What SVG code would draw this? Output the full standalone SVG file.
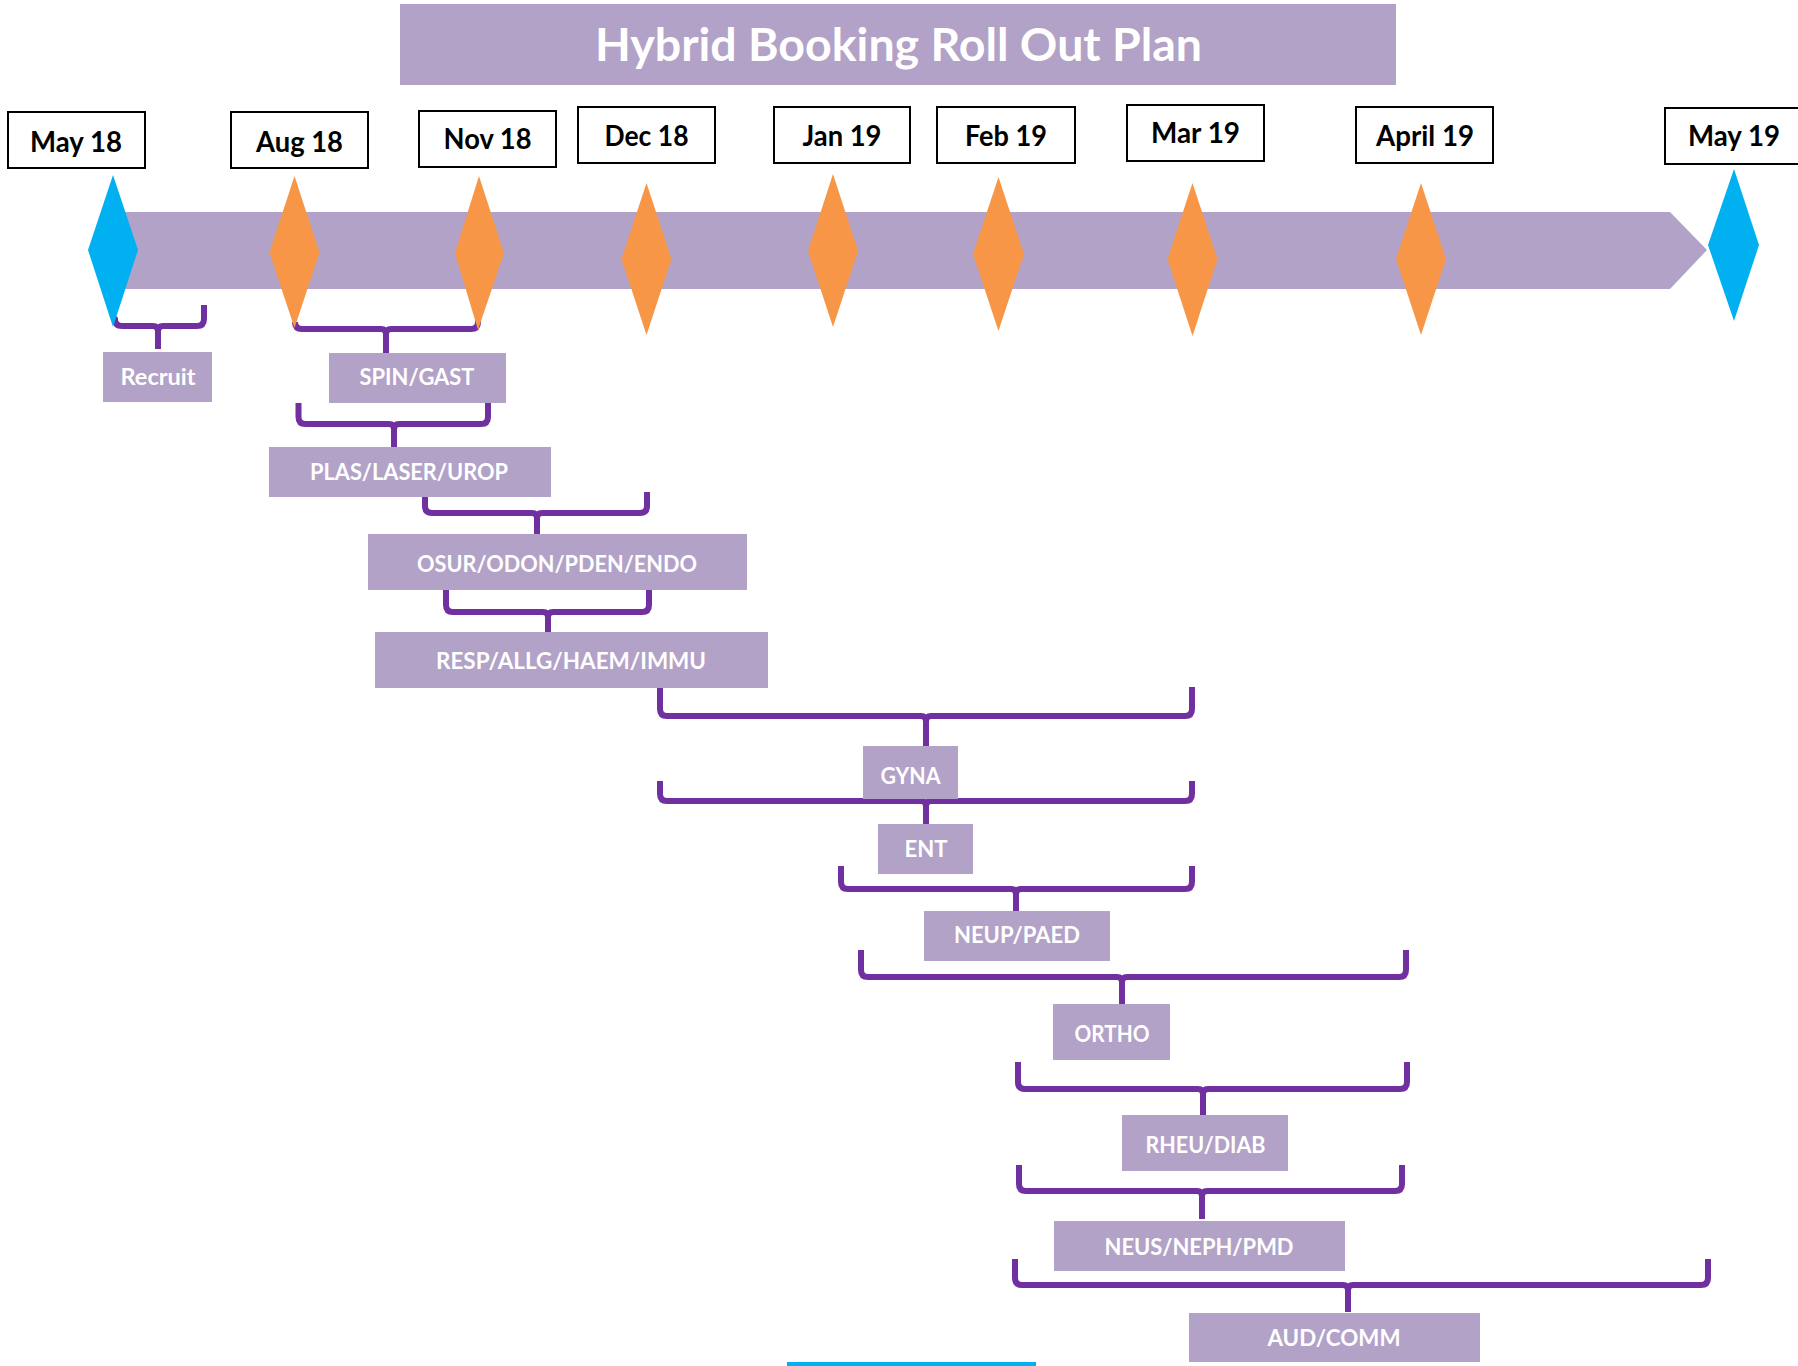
<svg xmlns="http://www.w3.org/2000/svg" width="1798" height="1366" viewBox="0 0 1798 1366">
  <style>
    .title { font-family: Lato, "Liberation Sans", sans-serif; font-weight: 700; font-size: 45px; fill: #FFFFFF; }
    .date-box { fill: #FFFFFF; stroke: #000000; stroke-width: 2; }
    .date { font-family: Lato, "Liberation Sans", sans-serif; font-weight: 700; font-size: 28px; fill: #000000; text-anchor: middle; }
    .box { fill: #B3A2C7; }
    .label { font-family: Lato, "Liberation Sans", sans-serif; font-weight: 700; font-size: 22px; fill: #FFFFFF; text-anchor: middle; }
    .ms-blue { fill: #00B0F0; }
    .ms-orange { fill: #F79646; }
    .brace { fill: none; stroke: #7030A0; stroke-width: 6; stroke-linecap: butt; stroke-linejoin: round; }
  </style>

  <rect width="1798" height="1366" fill="#FFFFFF"/>

  <!-- Title banner -->
  <g id="title">
    <rect class="box" x="400" y="4" width="996" height="81"/>
    <text class="title" x="595" y="61" textLength="607" lengthAdjust="spacingAndGlyphs">Hybrid Booking Roll Out Plan</text>
  </g>

  <!-- Timeline arrow -->
  <g id="timeline">
    <path class="box" d="M120,212 H1670 L1707,250 L1670,289 H120 Z"/>
  </g>

  <!-- Month labels -->
  <g id="date-may18"><rect class="date-box" x="8" y="112" width="137" height="56"/><text class="date" x="76" y="152" textLength="92" lengthAdjust="spacingAndGlyphs">May 18</text></g>
  <g id="date-aug18"><rect class="date-box" x="231" y="112" width="137" height="56"/><text class="date" x="299.5" y="152" textLength="87" lengthAdjust="spacingAndGlyphs">Aug 18</text></g>
  <g id="date-nov18"><rect class="date-box" x="419" y="111" width="137" height="56"/><text class="date" x="487.5" y="149" textLength="88" lengthAdjust="spacingAndGlyphs">Nov 18</text></g>
  <g id="date-dec18"><rect class="date-box" x="578" y="107" width="137" height="56"/><text class="date" x="646.5" y="146" textLength="84" lengthAdjust="spacingAndGlyphs">Dec 18</text></g>
  <g id="date-jan19"><rect class="date-box" x="774" y="107" width="136" height="56"/><text class="date" x="842" y="146" textLength="79" lengthAdjust="spacingAndGlyphs">Jan 19</text></g>
  <g id="date-feb19"><rect class="date-box" x="937" y="107" width="138" height="56"/><text class="date" x="1006" y="146" textLength="82" lengthAdjust="spacingAndGlyphs">Feb 19</text></g>
  <g id="date-mar19"><rect class="date-box" x="1127" y="105" width="137" height="56"/><text class="date" x="1195.5" y="143" textLength="89" lengthAdjust="spacingAndGlyphs">Mar 19</text></g>
  <g id="date-apr19"><rect class="date-box" x="1356" y="107" width="137" height="56"/><text class="date" x="1425" y="146" textLength="98" lengthAdjust="spacingAndGlyphs">April 19</text></g>
  <g id="date-may19"><rect class="date-box" x="1665" y="108" width="138" height="56"/><text class="date" x="1734" y="146" textLength="92" lengthAdjust="spacingAndGlyphs">May 19</text></g>

  <!-- Phase connectors (curly braces) -->
  <g id="connectors">
    <path class="brace" d="M115,320 V319 Q115,326 122,326 H153 Q158,326 158,331 V349 M158,331 Q158,326 163,326 H197 Q204,326 204,319 V305"/>
    <path class="brace" d="M295,322 Q295,329 302,329 H381 Q386,329 386,334 V353 M386,334 Q386,329 391,329 H471 Q478,329 478,322 V318"/>
    <path class="brace" d="M298.5,403 V417 Q298.5,424 305.5,424 H389 Q394,424 394,429 V447 M394,429 Q394,424 399,424 H481 Q488,424 488,417 V403"/>
    <path class="brace" d="M425,492 V506 Q425,513 432,513 H532 Q537,513 537,518 V535 M537,518 Q537,513 542,513 H640 Q647,513 647,506 V492"/>
    <path class="brace" d="M446,590 V605 Q446,612 453,612 H543 Q548,612 548,617 V633 M548,617 Q548,612 553,612 H642 Q649,612 649,605 V590"/>
    <path class="brace" d="M660,687 V709 Q660,716 667,716 H921 Q926,716 926,721 V746 M926,721 Q926,716 931,716 H1185 Q1192,716 1192,709 V687"/>
    <path class="brace" d="M660,781 V794 Q660,801 667,801 H921 Q926,801 926,806 V824 M926,806 Q926,801 931,801 H1185 Q1192,801 1192,794 V781"/>
    <path class="brace" d="M841,866 V882 Q841,889 848,889 H1011 Q1016,889 1016,894 V912 M1016,894 Q1016,889 1021,889 H1185 Q1192,889 1192,882 V866"/>
    <path class="brace" d="M861,950 V970 Q861,977 868,977 H1117 Q1122,977 1122,982 V1004 M1122,982 Q1122,977 1127,977 H1399 Q1406,977 1406,970 V950"/>
    <path class="brace" d="M1018,1062 V1082 Q1018,1089 1025,1089 H1198 Q1203,1089 1203,1094 V1116 M1203,1094 Q1203,1089 1208,1089 H1400 Q1407,1089 1407,1082 V1062"/>
    <path class="brace" d="M1019,1165 V1184 Q1019,1191 1026,1191 H1197 Q1202,1191 1202,1196 V1219 M1202,1196 Q1202,1191 1207,1191 H1395 Q1402,1191 1402,1184 V1165"/>
    <path class="brace" d="M1015,1259 V1278 Q1015,1285 1022,1285 H1343 Q1348,1285 1348,1290 V1312 M1348,1290 Q1348,1285 1353,1285 H1701 Q1708,1285 1708,1278 V1259"/>
  </g>

  <!-- Milestones -->
  <g id="milestone-may18"><polygon class="ms-blue" points="113,175 138,250 113,327 88,250"/></g>
  <g id="milestone-aug18"><polygon class="ms-orange" points="294.5,176 319.5,252.5 294.5,328 269.5,252.5"/></g>
  <g id="milestone-nov18"><polygon class="ms-orange" points="479,176 504,253 478,330 455,253"/></g>
  <g id="milestone-dec18"><polygon class="ms-orange" points="646.5,183 671.5,259 646.5,335 621.5,259"/></g>
  <g id="milestone-jan19"><polygon class="ms-orange" points="833,174 858,251 833,327 808,251"/></g>
  <g id="milestone-feb19"><polygon class="ms-orange" points="998.5,177 1024,254 998.5,331 973,254"/></g>
  <g id="milestone-mar19"><polygon class="ms-orange" points="1192.5,183 1217.5,259 1192.5,336 1167.5,259"/></g>
  <g id="milestone-apr19"><polygon class="ms-orange" points="1421,183 1446,259 1421,335 1396,259"/></g>
  <g id="milestone-may19"><polygon class="ms-blue" points="1734,169 1759,245 1734,321 1708,245"/></g>

  <!-- Phase nodes -->
  <g id="node-recruit"><rect class="box" x="103" y="352" width="109" height="50"/><text class="label" x="158" y="385" textLength="75" lengthAdjust="spacingAndGlyphs">Recruit</text></g>
  <g id="node-spin"><rect class="box" x="329" y="353" width="177" height="50"/><text class="label" x="417" y="385" textLength="115" lengthAdjust="spacingAndGlyphs">SPIN/GAST</text></g>
  <g id="node-plas"><rect class="box" x="269" y="447" width="282" height="50"/><text class="label" x="409" y="480" textLength="198" lengthAdjust="spacingAndGlyphs">PLAS/LASER/UROP</text></g>
  <g id="node-osur"><rect class="box" x="368" y="534" width="379" height="56"/><text class="label" x="557" y="572" textLength="280" lengthAdjust="spacingAndGlyphs">OSUR/ODON/PDEN/ENDO</text></g>
  <g id="node-resp"><rect class="box" x="375" y="632" width="393" height="56"/><text class="label" x="571" y="669" textLength="270" lengthAdjust="spacingAndGlyphs">RESP/ALLG/HAEM/IMMU</text></g>
  <g id="node-gyna"><rect class="box" x="863" y="746" width="95" height="53"/><text class="label" x="910.5" y="784" textLength="60" lengthAdjust="spacingAndGlyphs">GYNA</text></g>
  <g id="node-ent"><rect class="box" x="878" y="824" width="95" height="50"/><text class="label" x="926" y="857" textLength="43" lengthAdjust="spacingAndGlyphs">ENT</text></g>
  <g id="node-neup"><rect class="box" x="924" y="911" width="186" height="50"/><text class="label" x="1017" y="943" textLength="126" lengthAdjust="spacingAndGlyphs">NEUP/PAED</text></g>
  <g id="node-ortho"><rect class="box" x="1053" y="1004" width="117" height="56"/><text class="label" x="1112" y="1042" textLength="75" lengthAdjust="spacingAndGlyphs">ORTHO</text></g>
  <g id="node-rheu"><rect class="box" x="1122" y="1115" width="166" height="56"/><text class="label" x="1205.5" y="1153" textLength="120" lengthAdjust="spacingAndGlyphs">RHEU/DIAB</text></g>
  <g id="node-neus"><rect class="box" x="1054" y="1221" width="291" height="50"/><text class="label" x="1199" y="1255" textLength="189" lengthAdjust="spacingAndGlyphs">NEUS/NEPH/PMD</text></g>
  <g id="node-aud"><rect class="box" x="1189" y="1313" width="291" height="49"/><text class="label" x="1334" y="1346" textLength="133" lengthAdjust="spacingAndGlyphs">AUD/COMM</text></g>

  <!-- Blue rule along the bottom edge -->
  <rect x="787" y="1362" width="249" height="4" fill="#00B0F0"/>
</svg>
